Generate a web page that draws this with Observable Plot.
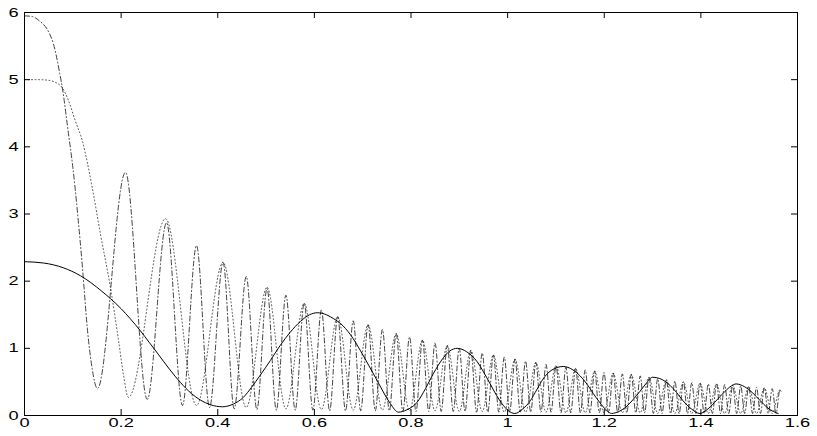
<!DOCTYPE html>
<html><head><meta charset="utf-8">
<script src="https://cdn.jsdelivr.net/npm/d3@7"></script>
<script src="https://cdn.jsdelivr.net/npm/@observablehq/plot@0.6"></script>
<style>html,body{margin:0;padding:0;background:#fff}</style>
</head><body><div id="chart"></div>
<script>
const xTicks = [0, 0.2, 0.4, 0.6, 0.8, 1.0, 1.2, 1.4, 1.6];
const xTickLabels = ["0", "0.2", "0.4", "0.6", "0.8", "1", "1.2", "1.4", "1.6"];
const yTicks = [0, 1, 2, 3, 4, 5, 6];
const yTickLabels = ["0", "1", "2", "3", "4", "5", "6"];

// solid curve
const solidX = [0, 0.04, 0.08, 0.116, 0.137, 0.16, 0.178, 0.2, 0.219, 0.24, 0.258, 0.275, 0.3, 0.323, 0.345, 0.364, 0.385, 0.41, 0.432, 0.453, 0.47, 0.488, 0.509, 0.529, 0.55, 0.571, 0.59, 0.606, 0.625, 0.64, 0.654, 0.675, 0.695, 0.713, 0.73, 0.745, 0.757, 0.774, 0.79, 0.813, 0.83, 0.846, 0.867, 0.88, 0.896, 0.915, 0.937, 0.95, 0.964, 0.977, 0.989, 1.0, 1.015, 1.03, 1.047, 1.06, 1.073, 1.09, 1.115, 1.135, 1.15, 1.165, 1.177, 1.19, 1.206, 1.215, 1.23, 1.247, 1.26, 1.274, 1.287, 1.30, 1.315, 1.336, 1.35, 1.363, 1.38, 1.398, 1.415, 1.433, 1.45, 1.463, 1.473, 1.49, 1.508, 1.523, 1.537, 1.55, 1.56];
const solidY = [2.29, 2.27, 2.2, 2.08, 1.98, 1.85, 1.74, 1.59, 1.44, 1.26, 1.09, 0.93, 0.69, 0.49, 0.33, 0.23, 0.16, 0.13, 0.17, 0.27, 0.42, 0.6, 0.82, 1.04, 1.24, 1.4, 1.5, 1.53, 1.5, 1.44, 1.37, 1.2, 0.97, 0.74, 0.52, 0.32, 0.18, 0.05, 0.08, 0.2, 0.4, 0.62, 0.86, 0.96, 1.0, 0.95, 0.8, 0.65, 0.47, 0.3, 0.17, 0.08, 0.03, 0.09, 0.22, 0.38, 0.54, 0.67, 0.73, 0.68, 0.59, 0.46, 0.33, 0.2, 0.07, 0.03, 0.06, 0.14, 0.24, 0.36, 0.48, 0.57, 0.55, 0.45, 0.34, 0.22, 0.1, 0.03, 0.1, 0.23, 0.36, 0.44, 0.47, 0.43, 0.33, 0.22, 0.12, 0.06, 0.03];

// dash-dot curve (read extrema)
const dashX = [0, 0.016, 0.03, 0.05, 0.06, 0.072, 0.08, 0.09, 0.1, 0.11, 0.12, 0.13, 0.14, 0.151, 0.209, 0.254, 0.294, 0.327, 0.356, 0.383, 0.411, 0.434, 0.459, 0.481, 0.502,
  0.5212, 0.5411, 0.5603, 0.5789, 0.5969, 0.6145, 0.6316, 0.6482, 0.6645, 0.6804, 0.6959, 0.7112, 0.7261, 0.7408, 0.7552, 0.7693, 0.7832, 0.7969, 0.8104, 0.8237, 0.8368, 0.8497, 0.8625, 0.8751, 0.8875, 0.8998, 0.9119, 0.9239, 0.9357, 0.9474, 0.9590, 0.9705, 0.9818, 0.9931,
  1.0042, 1.0153, 1.0262, 1.0371, 1.0478, 1.0585, 1.0690, 1.0795, 1.0899, 1.1002, 1.1105, 1.1206, 1.1307, 1.1407, 1.1507, 1.1606, 1.1704, 1.1801, 1.1898, 1.1994, 1.2090, 1.2185, 1.2280, 1.2374, 1.2467, 1.2560, 1.2652, 1.2744, 1.2835, 1.2926, 1.3017, 1.3107, 1.3196, 1.3285, 1.3374, 1.3462, 1.3550, 1.3638, 1.3725, 1.3811, 1.3898, 1.3984,
  1.4069, 1.4154, 1.4239, 1.4324, 1.4408, 1.4492, 1.4576, 1.4659, 1.4742, 1.4824, 1.4907, 1.4989, 1.5071, 1.5152, 1.5233, 1.5314, 1.5395, 1.5476, 1.5556, 1.5636, 1.566];
const dashY = [5.95, 5.94, 5.88, 5.71, 5.53, 5.13, 4.8, 4.25, 3.7, 3.0, 2.2, 1.3, 0.7, 0.40, 3.62, 0.24, 2.87, 0.15, 2.53, 0.12, 2.28, 0.10, 2.07, 0.09, 1.89,
  0.08, 1.79, 0.08, 1.67, 0.08, 1.57, 0.07, 1.47, 0.07, 1.41, 0.07, 1.35, 0.07, 1.28, 0.07, 1.22, 0.06, 1.17, 0.06, 1.12, 0.06, 1.08, 0.06, 1.04, 0.06, 1.00, 0.06, 0.97, 0.05, 0.93, 0.05, 0.90, 0.05, 0.87,
  0.05, 0.84, 0.05, 0.81, 0.05, 0.79, 0.05, 0.76, 0.05, 0.74, 0.04, 0.72, 0.04, 0.70, 0.04, 0.68, 0.04, 0.66, 0.04, 0.64, 0.04, 0.63, 0.04, 0.62, 0.04, 0.61, 0.04, 0.59, 0.04, 0.57, 0.03, 0.55, 0.03, 0.53, 0.03, 0.51, 0.03, 0.50, 0.03, 0.49, 0.03, 0.48,
  0.03, 0.47, 0.03, 0.47, 0.03, 0.46, 0.03, 0.45, 0.03, 0.44, 0.03, 0.43, 0.03, 0.42, 0.03, 0.41, 0.03, 0.40, 0.03, 0.38, 0.36];

// dotted curve (read extrema)
const dotX = [0, 0.03, 0.05, 0.064, 0.078, 0.091, 0.105, 0.12, 0.14, 0.157, 0.178, 0.195, 0.205, 0.215, 0.292, 0.356, 0.411, 0.459, 0.502,
  0.5411, 0.5789, 0.6145, 0.6482, 0.6804, 0.7112, 0.7408, 0.7693, 0.7969, 0.8237, 0.8497, 0.8751, 0.8998, 0.9239, 0.9474, 0.9705, 0.9931, 1.0153, 1.0371, 1.0585, 1.0795, 1.1002, 1.1206, 1.1407, 1.1606, 1.1801, 1.1994, 1.2185, 1.2374, 1.2560, 1.2744, 1.2926, 1.3107, 1.3285, 1.3462, 1.3638, 1.3811, 1.3984, 1.4154, 1.4324, 1.4492, 1.4659, 1.4824, 1.4989, 1.5152, 1.5314, 1.5476, 1.5636, 1.566];
const dotY = [5.0, 5.0, 4.99, 4.96, 4.88, 4.69, 4.39, 4.08, 3.4, 2.71, 1.9, 1.1, 0.6, 0.27, 2.93, 0.15, 2.28, 0.12, 1.91,
  0.10, 1.67, 0.09, 1.47, 0.08, 1.35, 0.08, 1.22, 0.07, 1.12, 0.07, 1.04, 0.06, 0.97, 0.06, 0.90, 0.05, 0.84, 0.05, 0.79, 0.05, 0.74, 0.04, 0.70, 0.04, 0.66, 0.04, 0.63, 0.04, 0.61, 0.04, 0.57, 0.03, 0.53, 0.03, 0.50, 0.03, 0.48, 0.03, 0.47, 0.03, 0.45, 0.03, 0.43, 0.03, 0.41, 0.03, 0.38, 0.37];

const W = 817, H = 436, mL = 24, mR = 20, mT = 12, mB = 21;
const innerW = W - mL - mR, innerH = H - mT - mB;
const tickLen = 6;
const labelStretch = 1.4;
const pts = (xs, ys) => xs.map((x, i) => ({x, y: ys[i]}));

const chart = Plot.plot({
  width: W, height: H,
  marginLeft: mL, marginRight: mR, marginTop: mT, marginBottom: mB,
  x: {domain: [0, 1.6], axis: null},
  y: {domain: [0, 6], axis: null},
  style: {fontFamily: "'Liberation Sans', Arial, Helvetica, sans-serif", fontSize: "13px", background: "#fff", color: "#000"},
  marks: [
    Plot.line(pts(dotX, dotY), {x: "x", y: "y", curve: "monotone-x", stroke: "#222", strokeWidth: 0.8, strokeDasharray: "1,2.5"}),
    Plot.line(pts(dashX, dashY), {x: "x", y: "y", curve: "monotone-x", stroke: "#111", strokeWidth: 0.8, strokeDasharray: "5,2.5,1,2.5"}),
    Plot.line(pts(solidX, solidY), {x: "x", y: "y", curve: "monotone-x", stroke: "#000", strokeWidth: 1}),
    Plot.tickX(xTicks, {x: d => d, insetTop: innerH - tickLen, stroke: "#000"}),
    Plot.tickX(xTicks, {x: d => d, insetBottom: innerH - tickLen, stroke: "#000"}),
    Plot.tickY(yTicks, {y: d => d, insetRight: innerW - tickLen, stroke: "#000"}),
    Plot.tickY(yTicks, {y: d => d, insetLeft: innerW - tickLen, stroke: "#000"}),
    Plot.frame({stroke: "#000"}),
    Plot.text(xTicks, {x: d => d, frameAnchor: "bottom", dy: 11, text: (d, i) => xTickLabels[i], fill: "#000"}),
    Plot.text(yTicks, {y: d => d, frameAnchor: "left", dx: -6, textAnchor: "end", text: (d, i) => yTickLabels[i], fill: "#000"})
  ]
});
document.getElementById("chart").appendChild(chart);

// stretch tick labels horizontally about their anchor point, like the reference
d3.select(chart).selectAll("text").each(function() {
  const bb = this.getBBox();
  const anchor = getComputedStyle(this).textAnchor;
  const ax = anchor === "end" ? bb.x + bb.width : anchor === "start" ? bb.x : bb.x + bb.width / 2;
  const t = this.getAttribute("transform") || "";
  this.setAttribute("transform", `${t} translate(${ax},0) scale(${labelStretch},1) translate(${-ax},0)`);
});
</script>
</body></html>
